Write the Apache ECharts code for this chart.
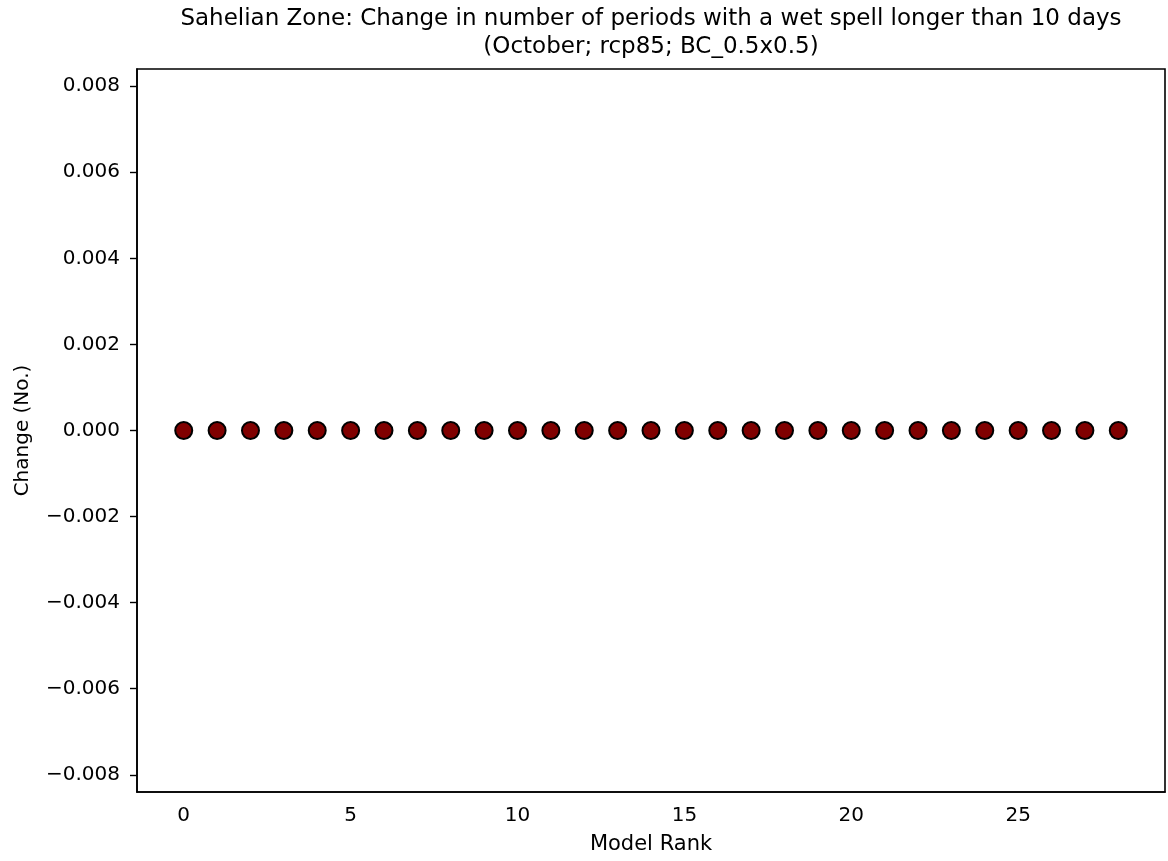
<!DOCTYPE html>
<html>
<head>
<meta charset="utf-8">
<script src="https://cdn.jsdelivr.net/npm/echarts@6/dist/echarts.min.js"></script>
<style>
html,body{margin:0;padding:0;background:#fff;}
#chart{width:1168px;height:861px;}
</style>
</head>
<body>
<div id="chart"></div>
<script>
const titleLines = ['Sahelian Zone: Change in number of periods with a wet spell longer than 10 days', '(October; rcp85; BC_0.5x0.5)'];
const xAxisName = 'Model Rank';
const yAxisName = 'Change (No.)';
const modelRank = [0,1,2,3,4,5,6,7,8,9,10,11,12,13,14,15,16,17,18,19,20,21,22,23,24,25,26,27,28];
const changeValues = [0,0,0,0,0,0,0,0,0,0,0,0,0,0,0,0,0,0,0,0,0,0,0,0,0,0,0,0,0];
const xTicks = [0,5,10,15,20,25];
const yTicks = [-0.008,-0.006,-0.004,-0.002,0,0.002,0.004,0.006,0.008];
const xRange = [-1.4, 29.4];
const yRange = [-0.0084, 0.0084];

const font = 'DejaVu Sans';
const chart = echarts.init(document.getElementById('chart'), null, {renderer:'canvas'});
const fmtY = v => {
  const r = Math.round(v*1000)/1000;
  if (Math.abs(r) < 1e-9) return '0.000';
  return (r < 0 ? '\u2212' : '') + Math.abs(r).toFixed(3);
};
chart.setOption({
  animation:false,
  backgroundColor:'#fff',
  title:{
    text: titleLines.join('\n'),
    left: 651, top: 5, textAlign:'center', padding:0,
    textStyle:{fontFamily:font, fontSize:23, fontWeight:'normal', color:'#000', lineHeight:28}
  },
  grid:{left:137, right:3, top:69, bottom:69, show:true, borderColor:'#000', borderWidth:1.6, containLabel:false},
  xAxis:{
    type:'value', min:xRange[0], max:xRange[1],
    name:xAxisName, nameLocation:'middle', nameGap:42,
    nameTextStyle:{fontFamily:font, fontSize:21, color:'#000'},
    axisLine:{show:true, onZero:false, lineStyle:{color:'#000', width:1.6}},
    axisTick:{show:false},
    axisLabel:{fontFamily:font, fontSize:20, color:'#000', margin:14, customValues:xTicks, formatter:v=>String(v)},
    splitLine:{show:false}
  },
  yAxis:{
    type:'value', min:yRange[0], max:yRange[1],
    name:yAxisName, nameLocation:'middle', nameGap:104, nameRotate:90,
    nameTextStyle:{fontFamily:font, fontSize:20, color:'#000'},
    axisLine:{show:true, onZero:false, lineStyle:{color:'#000', width:1.6}},
    axisTick:{show:true, length:7, lineStyle:{color:'#000', width:1.4}, customValues:yTicks},
    axisLabel:{fontFamily:font, fontSize:20, color:'#000', margin:17, customValues:yTicks, formatter:fmtY},
    splitLine:{show:false}
  },
  series:[{
    type:'scatter',
    data: modelRank.map((r,i)=>[r, changeValues[i]]),
    symbol:'circle', symbolSize:17,
    itemStyle:{color:'#800000', borderColor:'#000', borderWidth:2, opacity:1}
  }]
});
</script>
</body>
</html>
